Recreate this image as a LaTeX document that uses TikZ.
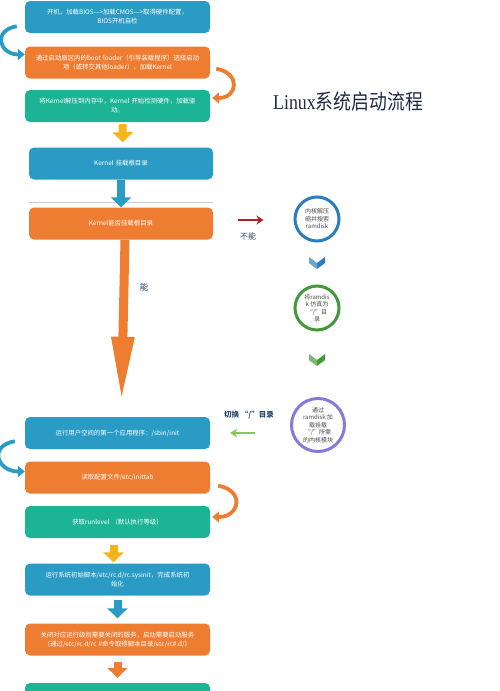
\documentclass[tikz,border=0pt]{standalone}
\usepackage{fontspec}
\setmainfont{Noto Sans CJK SC}
\newfontfamily\titlefont{Liberation Serif}
\usetikzlibrary{arrows.meta}
\definecolor{BootBlue}{HTML}{2A9BC5}
\definecolor{BootOrange}{HTML}{EE7D32}
\definecolor{BootTeal}{HTML}{1DB496}
\definecolor{BootYellow}{HTML}{F6B41C}
\definecolor{RingBlue}{HTML}{2A7DC0}
\definecolor{RingGreen}{HTML}{43993A}
\definecolor{RingPurple}{HTML}{8B78DC}
\definecolor{NoteBlue}{HTML}{2B4C6C}
\definecolor{TitleInk}{HTML}{1E2A44}
\definecolor{NoRed}{HTML}{B3202A}
\definecolor{YesGreen}{HTML}{86C65A}

\tikzset{
  stage/.style={rounded corners=5pt,minimum width=185pt,minimum height=32pt,text width=184pt,align=center,text=white,inner sep=0pt,font=\fontsize{6.4}{9}\selectfont},
  blockarrow/.style={line width=8pt,-{Triangle[length=10pt,width=20pt]}},
  bendarrow/.style={line width=3.8pt,-{Triangle[length=7pt,width=11pt]}},
  ring/.style={circle,line width=3pt,fill=white,minimum size=44pt,inner sep=0pt,align=center,text=black!70,font=\fontsize{6}{7.5}\selectfont},
  thinarrow/.style={line width=1.4pt,-{Stealth[length=7pt,width=9pt]}},
  note/.style={text=NoteBlue,font=\fontsize{8}{9}\selectfont},
}

\begin{document}
\begin{tikzpicture}[x=1pt,y=-1pt]
\useasboundingbox (0,0) rectangle (500,691);

% upper column
\node[stage,fill=BootBlue] (b1) at (117.5,17) {开机，加载BIOS—>加载CMOS—>取得硬件配置，\\BIOS开机自检};
\node[stage,fill=BootOrange] (b2) at (117.5,62.5) {通过启动扇区内的boot loader（引导装载程序）选择启动\\项（或转交其他loader），加载Kernel};
\node[stage,fill=BootTeal] (b3) at (117.5,106) {将Kernel解压到内存中，Kernel 开始检测硬件，加载驱\\动。};
\node[stage,fill=BootBlue,minimum width=184pt] (b4) at (121,163.5) {Kernel 挂载根目录};
\draw[black!20,line width=0.8pt] (29,202) -- (213,202);
\node[stage,fill=BootOrange,minimum width=184pt] (b5) at (121,223.5) {Kernel能否挂载根目录};

\draw[bendarrow,BootBlue] ([xshift=-8pt,yshift=7pt]b1.south west) to[out=190,in=180,looseness=2.2] ([yshift=8pt]b2.west);
\draw[bendarrow,BootOrange] ([xshift=6pt,yshift=10pt]b2.south east) to[out=-10,in=0,looseness=2.2] ([xshift=2pt,yshift=8pt]b3.east);
\draw[blockarrow,BootYellow,shorten <=2pt,shorten >=5pt] ([xshift=5pt]b3.south) -- ([xshift=2pt]b4.north);
\draw[blockarrow,BootBlue] (b4.south) -- (b5.north);

\node[font=\titlefont\fontsize{21}{24}\selectfont,text=TitleInk,xscale=0.85] (title) at (348,101) {Linux\fontspec{Noto Sans CJK SC}系统启动流程};

% right column
\node[ring,draw=RingBlue] (c1) at (317,219) {内核解压\\缩并搜索\\ramdisk};
\node[ring,draw=RingGreen] (c2) at (317,308) {将ramdis\\k 仿真为\\“/”目\\录};
\node[ring,draw=RingPurple,minimum size=53pt] (c3) at (318,425) {通过\\ramdisk 加\\载挂载\\“/”所需\\的内核模块};
\foreach \cy/\col in {263/RingBlue,360/RingGreen} {
  \fill[\col] (309,\cy-6) -- (317,\cy) -- (325,\cy-6) -- (325,\cy) -- (317,\cy+6) -- (309,\cy) -- cycle;
  \fill[white,opacity=0.3] (309,\cy-6) -- (317,\cy) -- (317,\cy+6) -- (309,\cy) -- cycle;
}

\draw[thinarrow,NoRed] ([xshift=-56pt,yshift=-1pt]c1.west) -- ([xshift=-30pt,yshift=-1pt]c1.west);
\node[note] (no) at (248,236) {不能};

% lower column
\node[stage,fill=BootBlue] (b6) at (117.5,433) {运行用户空间的第一个应用程序：/sbin/init};
\node[stage,fill=BootOrange] (b7) at (117.5,477.5) {读取配置文件/etc/inittab};
\node[stage,fill=BootTeal] (b8) at (117.5,522) {获取runlevel （默认执行等级）};
\node[stage,fill=BootBlue] (b9) at (117.5,579.5) {运行系统初始脚本/etc/rc.d/rc.sysinit，完成系统初\\始化};
\node[stage,fill=BootOrange] (b10) at (117.5,639.5) {关闭对应运行级别需要关闭的服务，启动需要启动服务\\（通过/etc/rc.d/rc \#命令取得脚本目录/etc/rc\#.d/）};
\node[stage,fill=BootTeal] (b11) at (117.5,699) {};

\draw[line width=9pt,BootOrange,-{Triangle[length=65pt,width=21pt]}] ([xshift=4pt]b5.south) -- ([xshift=4pt,yshift=15pt]b6.north);
\node[note,font=\fontsize{8.5}{9}\selectfont] (yes) at (144,287) {能};

\draw[thinarrow,YesGreen] ([xshift=45pt]b6.east) -- ([xshift=20pt]b6.east);
\node[note,font=\bfseries\fontsize{7.5}{9}\selectfont] (switch) at (249,415) {切换 “/”目录};

\draw[bendarrow,BootBlue] ([xshift=-10pt,yshift=8pt]b6.south west) to[out=190,in=180,looseness=2.2] ([yshift=6pt]b7.west);
\draw[bendarrow,BootOrange] ([xshift=8pt,yshift=8pt]b7.south east) to[out=-10,in=0,looseness=2.2] ([xshift=2pt,yshift=5pt]b8.east);
\draw[blockarrow,BootYellow,shorten <=7pt,shorten >=1pt] ([xshift=-4pt]b8.south) -- ([xshift=-4pt]b9.north);
\draw[blockarrow,BootBlue,shorten <=4pt,shorten >=5pt] (b9.south) -- (b10.north);
\draw[blockarrow,BootOrange,shorten <=6pt,shorten >=5pt] (b10.south) -- (b11.north);
\end{tikzpicture}
\end{document}
